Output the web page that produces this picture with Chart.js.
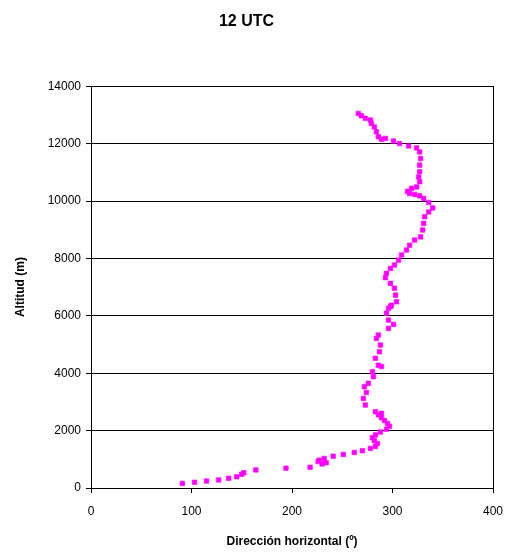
<!DOCTYPE html>
<html>
<head>
<meta charset="utf-8">
<script src="https://cdn.jsdelivr.net/npm/chart.js@4/dist/chart.umd.min.js"></script>
<style>
html,body{margin:0;padding:0;background:#fff;}
canvas{display:block;}
</style>
</head>
<body>
<canvas id="c" width="511" height="553"></canvas>
<script>
const chartTitle = "12 UTC";
const xTitle = "Dirección horizontal (º)";
const yTitle = "Altitud (m)";

// Direction (degrees) and altitude (m) read from the profile
const direction = [
  91,103,115,127,137,145,150,152,164,194,218,226,230,227,232,234,241,251,262,
  270,278,283,285,282,280,283,288,294,297,295,292,289,286,
  289,283,273,271,274,272,276,281,280,289,286,283,287,288,284,286,296,301,296,294,298,
  296,299,304,303,302,298,293,294,298,302,306,309,314,317,322,328,330,331,332,336,340,
  336,331,327,322,317,315,319,324,327,326,327,327,328,327,324,316,307,301,293,289,286,284,282,279,278,273,269,266
];
const altitude = [
  160,200,240,280,340,390,480,530,630,690,720,920,840,970,1030,880,1110,1170,1240,
  1300,1380,1450,1550,1650,1750,1850,1950,2050,2150,2250,2350,2450,2550,
  2600,2660,2890,3120,3330,3530,3650,3880,4050,4230,4280,4520,4750,4980,5210,5330,5560,5700,5850,6090,6320,
  6260,6370,6490,6720,6960,7130,7330,7480,7650,7770,7940,8120,8290,8460,8640,8750,8990,9220,9450,9620,9760,
  9950,10090,10180,10230,10260,10340,10440,10490,10670,10840,11020,11250,11480,11710,11850,11920,12000,12090,12180,12150,12240,12410,12580,12700,12820,12880,12970,13050
];

const xTickValues = [0,100,200,300,400];
const yTickValues = [0,2000,4000,6000,8000,10000,12000,14000];

const points = direction.map((d,i)=>({x:d, y:altitude[i]}));

const frame = {
  id:'frame',
  beforeDraw(chart){
    const c = chart.ctx;
    c.save(); c.fillStyle='#fff'; c.fillRect(0,0,chart.width,chart.height); c.restore();
  },
  afterDatasetsDraw(chart){
    const a = chart.chartArea, c = chart.ctx;
    c.save(); c.strokeStyle='#000'; c.lineWidth=1;
    c.strokeRect(Math.round(a.left)+0.5, Math.round(a.top)+0.5, Math.round(a.right-a.left), Math.round(a.bottom-a.top));
    c.restore();
  }
};

const font = "'Liberation Sans', Arial, sans-serif";
new Chart(document.getElementById('c'), {
  type:'scatter',
  data:{datasets:[{
    data: points,
    pointStyle:'rect',
    pointRadius:3.2,
    pointBorderWidth:0.6,
    backgroundColor:'#ff00ff',
    borderColor:'#ff00ff'
  }]},
  options:{
    responsive:false,
    animation:false,
    layout:{padding:{left:0,right:18,top:0,bottom:0}},
    plugins:{
      legend:{display:false},
      tooltip:{enabled:false},
      title:{display:true,text:chartTitle,color:'#000',
        font:{family:font,size:16,weight:'bold'},padding:{top:12,bottom:55}}
    },
    scales:{
      x:{
        type:'linear',min:0,max:400,
        afterBuildTicks(s){ s.ticks = xTickValues.map(v=>({value:v})); },
        afterFit(s){ s.height = 65; s.paddingRight = 0; s.paddingLeft = 0; },
        ticks:{color:'#000',font:{family:font,size:12},padding:11,maxRotation:0,callback:v=>String(v)},
        grid:{drawOnChartArea:false,drawTicks:true,tickLength:5,color:'#000'},
        border:{display:true,color:'#000',width:1},
        title:{display:true,text:xTitle,color:'#000',font:{family:font,size:12,weight:'bold'},padding:{top:4,bottom:4}}
      },
      y:{
        type:'linear',min:0,max:14000,
        afterBuildTicks(s){ s.ticks = yTickValues.map(v=>({value:v})); },
        afterFit(s){ s.width = 91; s.paddingTop = 0; s.paddingBottom = 0; },
        ticks:{color:'#000',font:{family:font,size:12},padding:5,callback:v=>String(v)},
        grid:{drawOnChartArea:true,drawTicks:true,tickLength:5,color:'#000',lineWidth:1},
        border:{display:true,color:'#000',width:1},
        title:{display:true,text:yTitle,color:'#000',font:{family:font,size:12,weight:'bold'},padding:{top:13,bottom:4}}
      }
    }
  },
  plugins:[frame]
});
</script>
</body>
</html>
